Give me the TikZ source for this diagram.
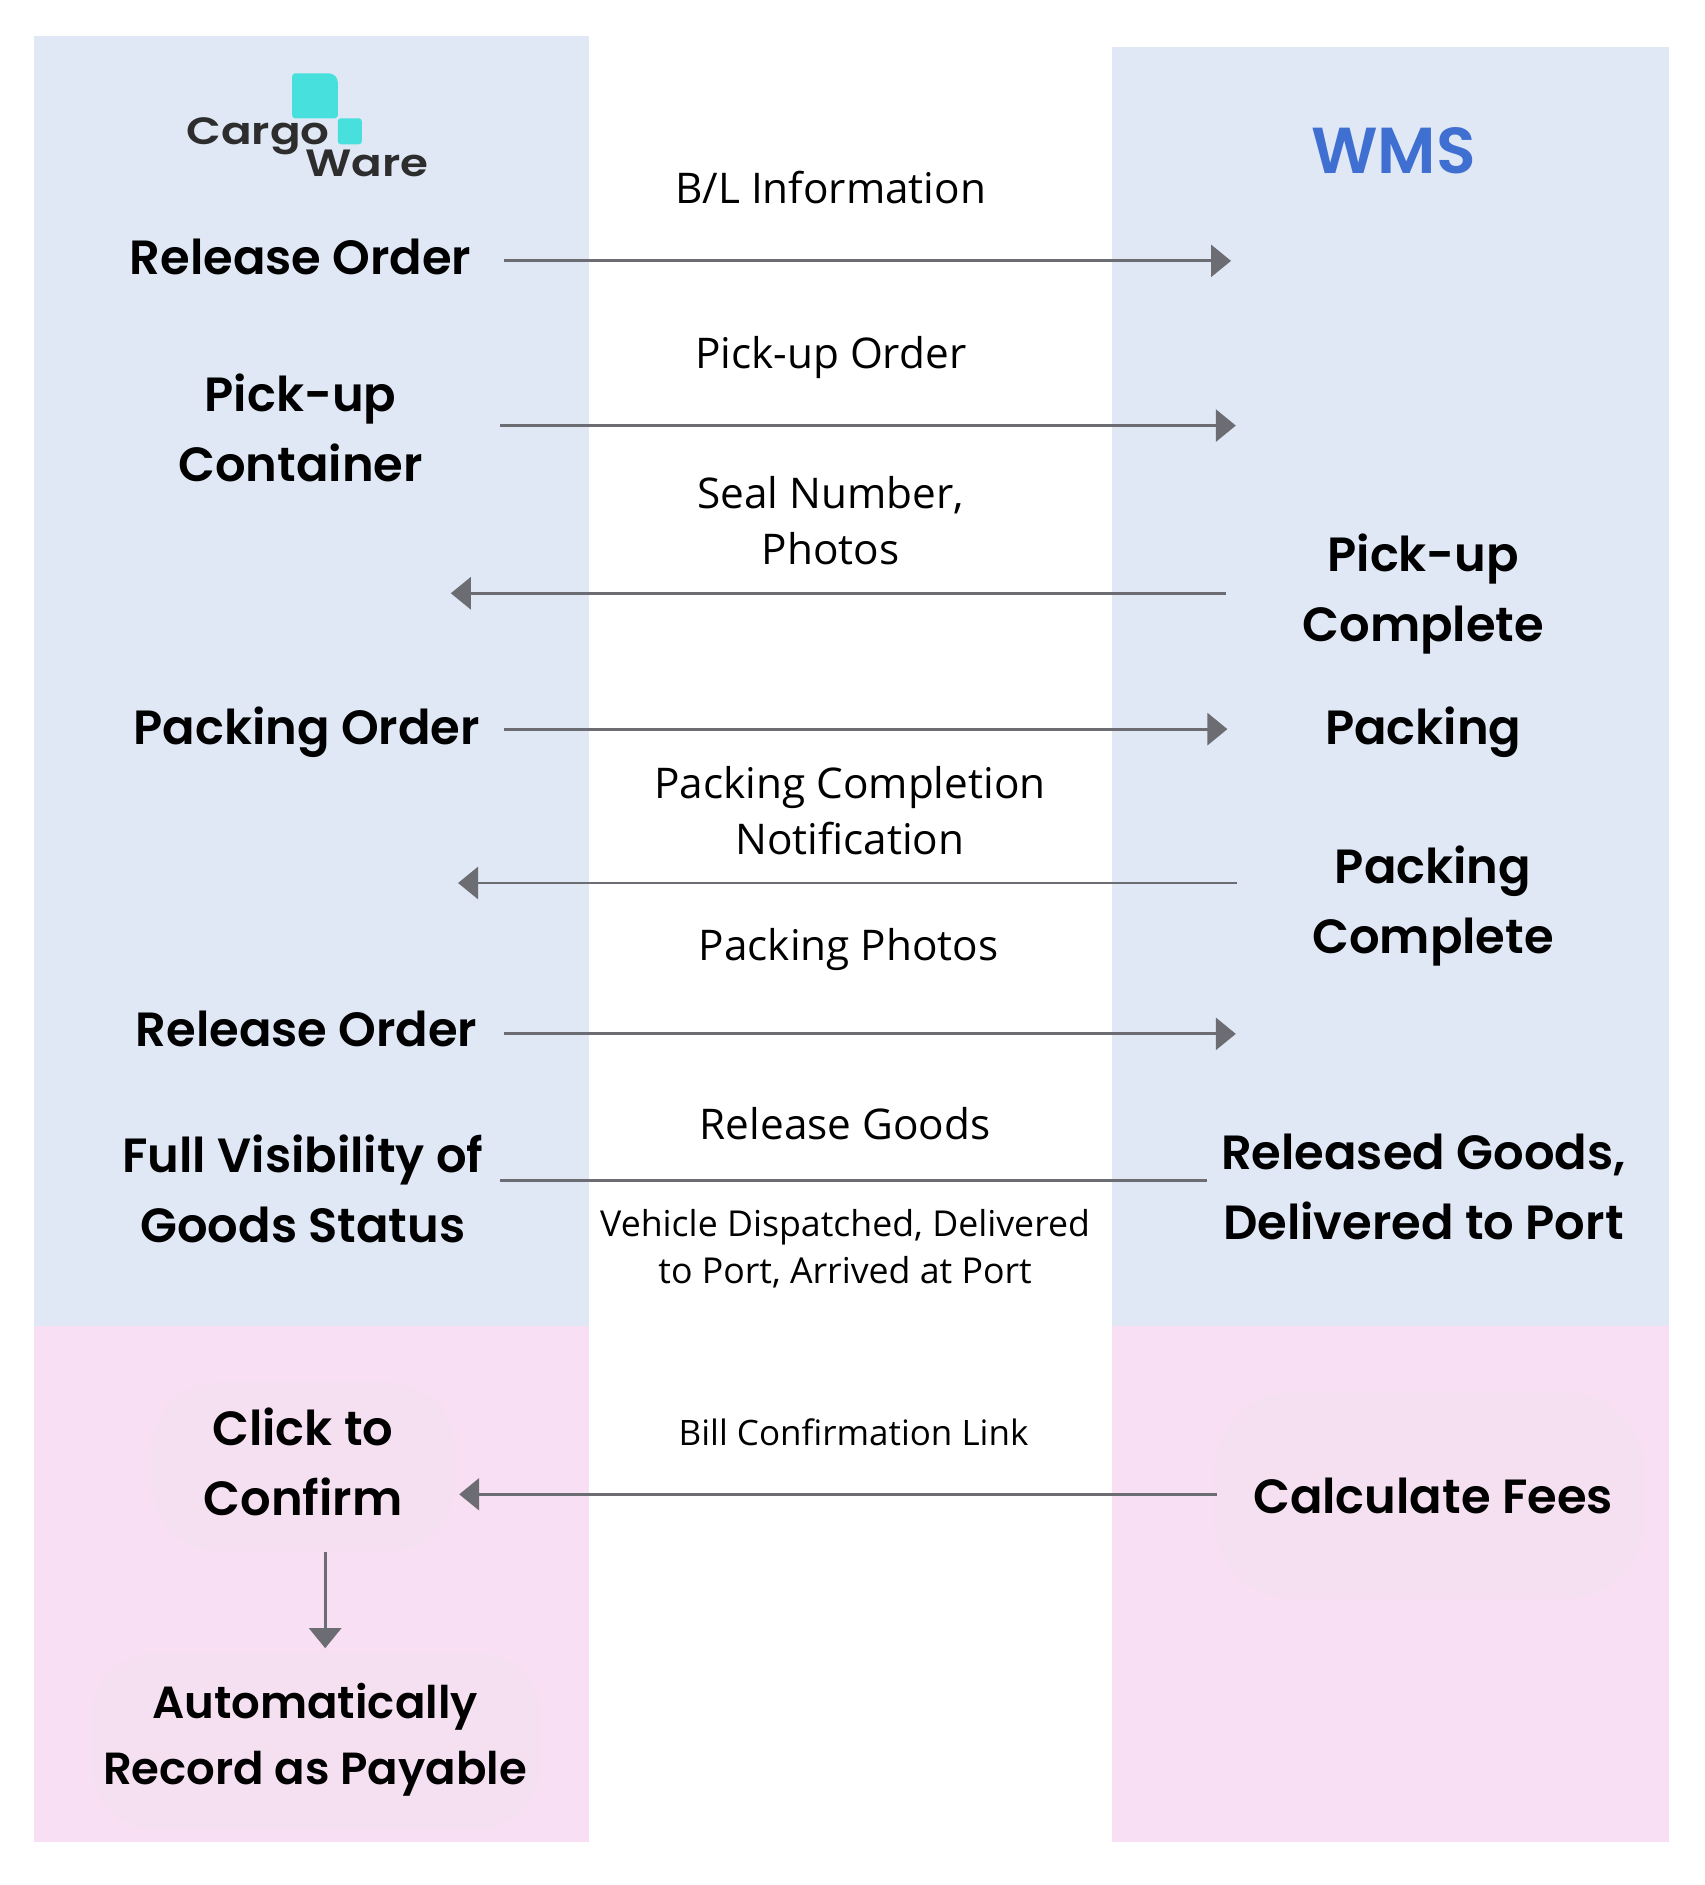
\documentclass[tikz,border=0pt]{standalone}
\usepackage{fontspec}
\usetikzlibrary{arrows.meta}
\setmainfont{Open Sans}
\newfontfamily\headfont{Poppins SemiBold}
\newfontfamily\logofont[FakeStretch=1.19]{Poppins SemiBold}
\definecolor{panelblue}{HTML}{E0E8F6}
\definecolor{panelpink}{HTML}{F9DFF3}
\definecolor{blobpink}{HTML}{F5E0F2}
\definecolor{linegray}{HTML}{6C6D72}
\definecolor{wmsblue}{HTML}{3F6FD0}
\definecolor{logoteal}{HTML}{48E0DC}
\definecolor{logodark}{HTML}{2D2D2D}
\tikzset{
  x=1.2024pt,y=-1.2024pt,
  head/.style={font=\headfont\fontsize{48}{70}\selectfont,text=black,align=center,inner sep=0pt},
  headtight/.style={font=\headfont\fontsize{45}{66}\selectfont,text=black,align=center,inner sep=0pt},
  lab/.style={font=\fontsize{42.3}{56}\selectfont,text=black,align=center,inner sep=0pt},
  labsmall/.style={font=\fontsize{35.7}{47}\selectfont,text=black,align=center,inner sep=0pt},
  labtiny/.style={font=\fontsize{35}{47}\selectfont,text=black,align=center,inner sep=0pt},
  flow/.style={draw=linegray,line width=2.8pt,-{Triangle[length=20pt,width=32pt]}},
  plain/.style={draw=linegray,line width=2.8pt},
  logotext/.style={font=\logofont\fontsize{38}{38}\selectfont,text=logodark,inner sep=0pt,anchor=base west},
}
\begin{document}
\begin{tikzpicture}
\useasboundingbox (0,0) rectangle (1418,1568);
\fill[white] (0,0) rectangle (1418,1568);
% panels
\fill[panelblue] (28,30) rectangle (490,1103);
\fill[panelpink] (28,1103) rectangle (490,1532);
\fill[panelblue] (925,39) rectangle (1388,1103);
\fill[panelpink] (925,1103) rectangle (1388,1532);
% soft patches
\fill[blobpink,rounded corners=65pt] (127,1150) rectangle (378,1290);
\fill[blobpink,rounded corners=65pt] (76,1375) rectangle (450,1522);
\fill[blobpink,rounded corners=80pt] (1010,1158) rectangle (1368,1330);
% logo
\fill[logoteal,rounded corners=3pt] (243,61) -- (270,61) [rounded corners=9pt] -- (281,61) [rounded corners=3pt] -- (281,98.4) -- (243,98.4) -- cycle;
\fill[logoteal,rounded corners=3pt] (281,98.4) rectangle (301,120);
\node[logotext] (cargo) at (155,120.6) {Cargo};
\node[logotext] (ware) at (254,147) {Ware};
\node[font=\headfont\fontsize{65}{65}\selectfont,text=wmsblue,inner sep=0pt] (wms) at (1159,125) {WMS};
% left
\node[head] (rel1) at (250,214) {Release Order};
\node[head] (pick) at (250,356) {Pick-up\\Container};
\node[head] (pord) at (255,609) {Packing Order};
\node[head] (rel2) at (255,856) {Release Order};
\node[head] (full) at (252,989) {Full Visibility of\\Goods Status};
\node[head] (click) at (252,1216) {Click to\\Confirm};
\node[headtight] (auto) at (262,1447) {Automatically\\Record as Payable};
% right
\node[head] (pcomp) at (1184,494) {Pick-up\\Complete};
\node[head] (pack) at (1184,609) {Packing};
\node[head] (packc) at (1192,754) {Packing\\Complete};
\node[head] (relg) at (1184,987) {Released Goods,\\Delivered to Port};
\node[head] (fees) at (1192,1244) {Calculate Fees};
% middle labels
\node[lab] (l1) at (691,156) {B/L Information};
\node[lab] (l2) at (691,297) {Pick-up Order};
\node[lab] (l3) at (691,433) {Seal Number,\\Photos};
\node[lab] (l4) at (707,674) {Packing Completion\\Notification};
\node[lab] (l5) at (706,790) {Packing Photos};
\node[lab] (l6) at (703,935) {Release Goods};
\node[labsmall] (l7) at (703,1039) {Vehicle Dispatched, Delivered\\to Port, Arrived at Port};
\node[labtiny] (l8) at (710,1191) {Bill Confirmation Link};
% connector ends
\coordinate (a1) at (419,217); \coordinate (b1) at (1024,217);
\coordinate (a2) at (416,354); \coordinate (b2) at (1028,354);
\coordinate (a3) at (1020,493.5); \coordinate (b3) at (375,493.5);
\coordinate (a4) at (419,606.5); \coordinate (b4) at (1021,606.5);
\coordinate (a5) at (1029,734.5); \coordinate (b5) at (381,734.5);
\coordinate (a6) at (419,860); \coordinate (b6) at (1028,860);
\coordinate (a7) at (416,982); \coordinate (b7) at (1004,982);
\coordinate (a8) at (1012,1243); \coordinate (b8) at (382,1243);
\coordinate (a9) at (270.5,1291); \coordinate (b9) at (270.5,1371);
\draw[flow] (a1) -- (b1);
\draw[flow] (a2) -- (b2);
\draw[flow] (a3) -- (b3);
\draw[flow] (a4) -- (b4);
\draw[flow] (a5) -- (b5);
\draw[flow] (a6) -- (b6);
\draw[plain] (a7) -- (b7);
\draw[flow] (a8) -- (b8);
\draw[flow] (a9) -- (b9);
\end{tikzpicture}
\end{document}
